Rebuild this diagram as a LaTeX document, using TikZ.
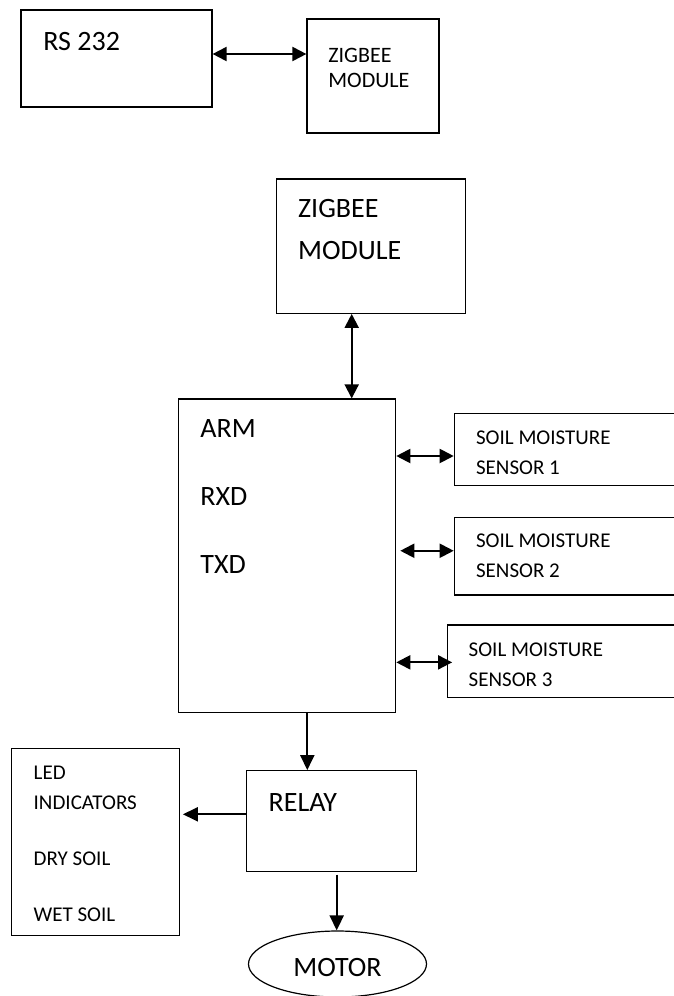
\documentclass[tikz,border=0pt]{standalone}
\usepackage{fontspec}
\setmainfont{Carlito}
\usetikzlibrary{arrows.meta, positioning, fit, calc, shapes.geometric}

\begin{document}
\begin{tikzpicture}[x=0.5pt, y=-0.5pt,
    blk/.style={draw, line width=0.6pt, inner sep=0pt},
    txtL/.style={anchor=base west, inner sep=0pt, align=left, font=\fontsize{14}{#1}\selectfont},
    txtL/.default=17,
    txtS/.style={anchor=base west, inner sep=0pt, align=left, font=\fontsize{10.5}{#1}\selectfont},
    txtS/.default=14.75,
    link/.style={line width=1pt, -{Triangle[length=7.5pt,width=7pt]}},
    both/.style={line width=1pt, {Triangle[length=7pt,width=7pt]}-{Triangle[length=7pt,width=7pt]}},
  ]
      \path[use as bounding box, clip] (0,0) rectangle (674,996);

      % top pair (text nodes sit on the baseline of their last line)
      \node[blk, fit={(21,10) (212,107)}] (rs) {};
      \node[txtL] (rsT) at (43,50) {RS 232};
      \node[blk, fit={(307,19) (439,133)}] (zbA) {};
      \node[anchor=base west, inner sep=0pt, align=left, font=\fontsize{11}{12.5}\selectfont] (zbAT) at (328,87) {ZIGBEE\\MODULE};

      % main blocks
      \node[blk, fit={(276.7,179) (465.7,313.3)}] (zbB) {};
      \node[txtL=21] (zbBT) at (297.7,259.3) {ZIGBEE\\MODULE};
      \node[blk, fit={(178.3,399) (395.7,712.7)}] (arm) {};
      \node[txtL=34] (armT) at (200,573.3) {ARM\\RXD\\TXD};

      % sensors
      \node[blk, fit={(454.3,413.3) (700,485.7)}] (s1) {};
      \node[txtS] (s1T) at (475.7,474) {SOIL MOISTURE\\SENSOR 1};
      \node[blk, fit={(454.3,517.7) (700,595)}] (s2) {};
      \node[txtS] (s2T) at (475.7,577.3) {SOIL MOISTURE\\SENSOR 2};
      \node[blk, fit={(447.7,625) (700,697.7)}] (s3) {};
      \node[txtS] (s3T) at (468.3,686) {SOIL MOISTURE\\SENSOR 3};

      % outputs
      \node[blk, fit={(246.7,770.7) (416.7,871.3)}] (relay) {};
      \node[txtL] (relayT) at (268.3,811) {RELAY};
      \node[blk, fit={(11.7,748.3) (179.3,935.7)}] (led) {};
      \node[txtS=15] (ledT) at (33.3,921.7) {LED\\INDICATORS\\[13.35pt]DRY SOIL\\[13pt]WET SOIL};
      \node[draw, ellipse, line width=0.6pt, inner sep=0pt, minimum width=89pt, minimum height=33pt,
            text height=12.6pt, text depth=0pt, font=\fontsize{14}{17}\selectfont] (motor) at (337.5,964) {MOTOR};

      % connectors
      \coordinate (rsOut) at ([yshift=2.25pt]rs.east);
      \draw[both] (rsOut) -- (rsOut -| zbA.west);
      \coordinate (zbOut) at ([xshift=-9.75pt]zbB.south);
      \draw[both] (zbOut) -- (zbOut |- arm.north);
      \coordinate (s1In) at ([yshift=-3.25pt]s1.west);
      \draw[both] (s1In -| arm.east) -- (s1In);
      \coordinate (s2In) at ([yshift=2.8pt]s2.west);
      \draw[both, shorten <=2pt] (s2In -| arm.east) -- (s2In);
      \coordinate (s3In) at ([yshift=-0.5pt]s3.west);
      \draw[both, shorten >=-2.5pt] (s3In -| arm.east) -- (s3In);
      \coordinate (armOut) at ([xshift=10.15pt]arm.south);
      \draw[link] (armOut) -- (armOut |- relay.north);
      \coordinate (relayL) at ([yshift=3.35pt]relay.west);
      \draw[link, shorten >=1.5pt] (relayL) -- (relayL -| led.east);
      \coordinate (relayD) at ([xshift=2.5pt]relay.south);
      \draw[link, shorten <=1.3pt] (relayD) -- (relayD |- motor.north);
    \end{tikzpicture}
\end{document}
